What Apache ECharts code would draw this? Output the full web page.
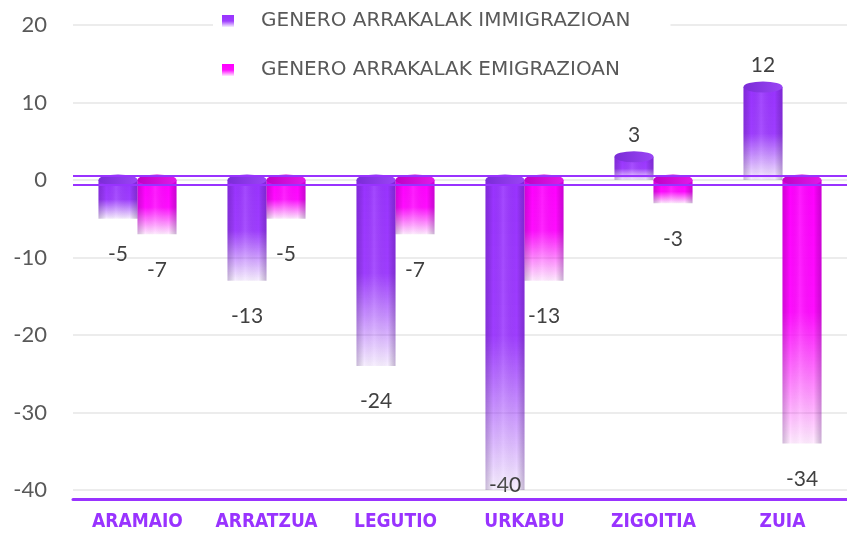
<!DOCTYPE html>
<html>
<head>
<meta charset="utf-8">
<script src="https://cdn.jsdelivr.net/npm/echarts@6/dist/echarts.min.js"></script>
<style>
  html, body { margin: 0; padding: 0; background: #fff; }
  #chart { width: 847px; height: 535px; }
</style>
</head>
<body>
<div id="chart"></div>
<script>
// datuak
var herriak = ["ARAMAIO", "ARRATZUA", "LEGUTIO", "URKABU", "ZIGOITIA", "ZUIA"];
var immigrazioa = [-5, -13, -24, -40, 3, 12];
var emigrazioa = [-7, -5, -7, -13, -3, -34];
var yMin = -40, yMax = 20, yTartea = 10;

var izenak = ["GENERO ARRAKALAK IMMIGRAZIOAN", "GENERO ARRAKALAK EMIGRAZIOAN"];

var myChart = echarts.init(document.getElementById("chart"));

// goitik behera desagertzen den kolorea
function fade(r, g, b) {
  return new echarts.graphic.LinearGradient(0, 0, 0, 1, [
    { offset: 0, color: "rgba(" + r + "," + g + "," + b + ",1)" },
    { offset: 0.5, color: "rgba(" + r + "," + g + "," + b + ",0.95)" },
    { offset: 1, color: "rgba(" + r + "," + g + "," + b + ",0.08)" }
  ]);
}
// zilindroaren itzala
function shade() {
  return new echarts.graphic.LinearGradient(0, 0, 1, 0, [
    { offset: 0, color: "rgba(40,0,80,0.22)" },
    { offset: 0.2, color: "rgba(0,0,0,0)" },
    { offset: 0.45, color: "rgba(255,255,255,0.10)" },
    { offset: 0.8, color: "rgba(0,0,0,0)" },
    { offset: 1, color: "rgba(40,0,80,0.25)" }
  ]);
}
function cap(c1, c2) {
  return new echarts.graphic.LinearGradient(0, 0, 1, 0, [
    { offset: 0, color: c1 },
    { offset: 1, color: c2 }
  ]);
}

function barData(arr) {
  return arr.map(function(v) {
    if (v === yMin) {
      return { value: v, label: { position: "insideBottom", distance: -6 } };
    }
    return { value: v, label: { distance: v < 0 ? 25 : 11 } };
  });
}
function capData(arr) {
  return arr.map(function(v) { return Math.max(v, 0); });
}

var labelStyle = {
  show: true,
  position: "outside",
  color: "#404040",
  fontSize: 21,
  fontFamily: "Lato"
};

myChart.setOption({
  animation: false,
  grid: {
    left: 73,
    right: -6,
    top: 25,
    bottom: 45
  },
  legend: {
    data: izenak,
    orient: "vertical",
    left: 213,
    top: 7,
    itemGap: 29,
    itemWidth: 12,
    itemHeight: 12,
    icon: "rect",
    padding: [4, 40, 4, 9],
    backgroundColor: "#fff",
    textStyle: {
      color: "#595959",
      fontSize: 20,
      fontFamily: "DejaVu Sans",
      padding: [0, 0, 0, 22]
    }
  },
  xAxis: [
    {
      type: "category",
      data: herriak,
      offset: 9,
      axisTick: { show: false },
      axisLine: {
        show: true,
        onZero: false,
        lineStyle: { color: "#9933ff", width: 3 }
      },
      axisLabel: {
        interval: 0,
        color: "#9933ff",
        fontSize: 19,
        fontWeight: "bold",
        fontFamily: "'Liberation Sans Narrow', 'DejaVu Sans Condensed', 'Roboto', sans-serif",
        margin: 14
      }
    },
    {
      type: "category",
      data: herriak,
      show: false
    }
  ],
  yAxis: {
    type: "value",
    min: yMin,
    max: yMax,
    interval: yTartea,
    axisLine: { show: false },
    axisTick: { show: false },
    axisLabel: {
      color: "#595959",
      fontSize: 22,
      fontFamily: "Lato",
      margin: 26,
      padding: [12, 0, 0, 0]
    },
    splitLine: {
      show: true,
      lineStyle: { color: "#ececec", width: 2 }
    }
  },
  series: [
    {
      name: izenak[0],
      type: "bar",
      xAxisIndex: 0,
      barWidth: 39,
      barGap: "0%",
      data: barData(immigrazioa),
      itemStyle: { color: fade(153, 51, 255) },
      label: labelStyle,
      z: 2,
      markLine: {
        silent: true,
        symbol: "none",
        label: { show: false },
        lineStyle: { color: "#9933ff", width: 2, type: "solid" },
        data: [{ yAxis: 0.6 }, { yAxis: -0.6 }]
      }
    },
    {
      name: izenak[1],
      type: "bar",
      xAxisIndex: 0,
      barWidth: 39,
      barGap: "0%",
      data: barData(emigrazioa),
      itemStyle: { color: fade(255, 0, 255) },
      label: labelStyle,
      z: 2
    },
    {
      type: "bar",
      xAxisIndex: 1,
      barWidth: 39,
      barGap: "0%",
      silent: true,
      data: immigrazioa,
      itemStyle: { color: shade() },
      z: 3
    },
    {
      type: "bar",
      xAxisIndex: 1,
      barWidth: 39,
      barGap: "0%",
      silent: true,
      data: emigrazioa,
      itemStyle: { color: shade() },
      z: 3
    },
    {
      type: "scatter",
      symbol: "circle",
      symbolSize: [39, 11],
      symbolOffset: [-19.5, 0],
      silent: true,
      data: capData(immigrazioa),
      itemStyle: { color: cap("#7a2cd6", "#9a45f5"), opacity: 1 },
      z: 4
    },
    {
      type: "scatter",
      symbol: "circle",
      symbolSize: [39, 11],
      symbolOffset: [19.5, 0],
      silent: true,
      data: capData(emigrazioa),
      itemStyle: { color: cap("#c000c4", "#e21ae6"), opacity: 1 },
      z: 4
    }
  ]
});
</script>
</body>
</html>
